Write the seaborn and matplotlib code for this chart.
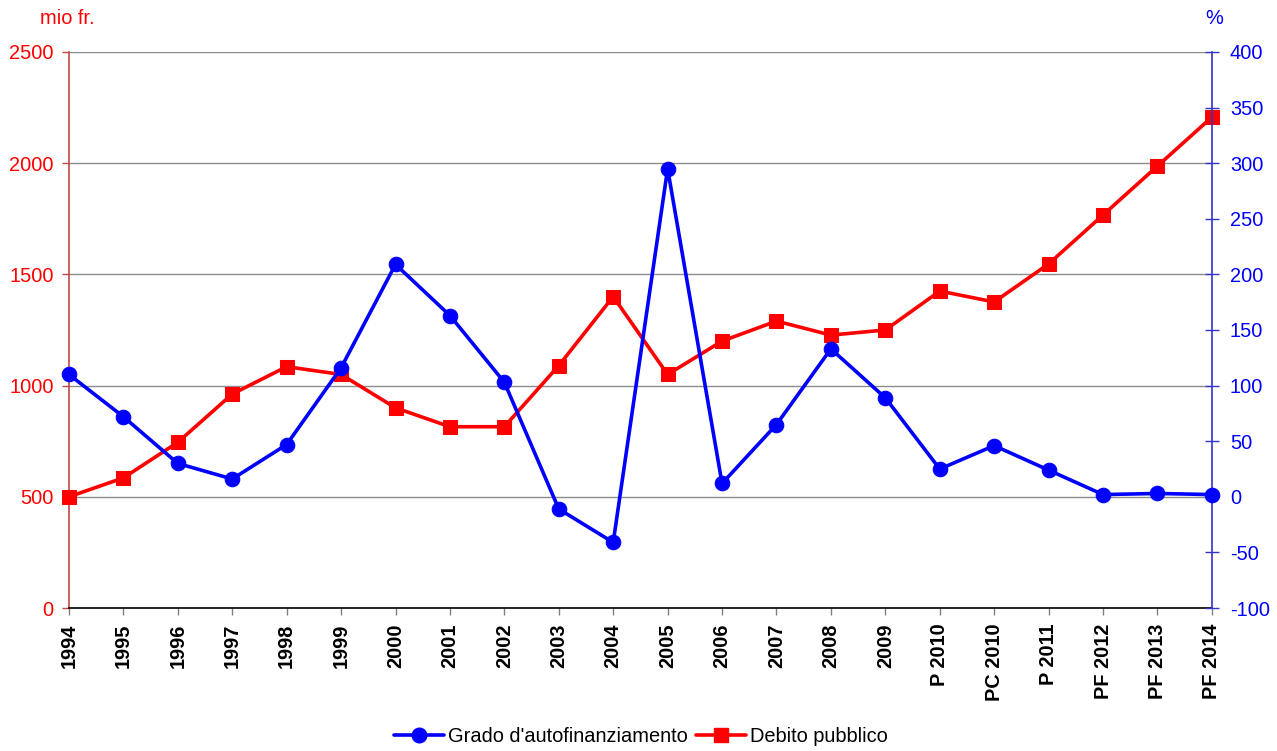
import matplotlib
matplotlib.use("Agg")
import matplotlib.pyplot as plt
import seaborn as sns
import pandas as pd
from matplotlib.lines import Line2D

# Data
periods = ["1994", "1995", "1996", "1997", "1998", "1999", "2000", "2001", "2002",
           "2003", "2004", "2005", "2006", "2007", "2008", "2009", "P 2010",
           "PC 2010", "P 2011", "PF 2012", "PF 2013", "PF 2014"]
debito_pubblico = [500, 585, 745, 962, 1085, 1050, 900, 815, 815, 1090, 1400,
                   1050, 1200, 1290, 1227, 1250, 1425, 1376, 1547, 1767, 1987, 2207]
grado_autofin = [110, 72, 30, 16, 47, 116, 209, 163, 103, -11, -41,
                 295, 12, 65, 133, 89, 25, 46, 24, 2, 3, 2]

left_ticks = [0, 500, 1000, 1500, 2000, 2500]
right_ticks = [-100, -50, 0, 50, 100, 150, 200, 250, 300, 350, 400]

RED = "#FF0000"
BLUE = "#0000FF"
FS = 14.4

sns.set_theme(style="white")
plt.rcParams["font.family"] = ["Liberation Sans", "DejaVu Sans"]
plt.rcParams["axes.unicode_minus"] = False
plt.rcParams["text.color"] = "black"

df = pd.DataFrame({"periodo": periods, "debito": debito_pubblico, "grado": grado_autofin})

fig = plt.figure(figsize=(12.77, 7.51), dpi=100)
ax = fig.add_axes([0.054, 0.1904, 0.895, 0.7404])
ax2 = ax.twinx()

# Public debt (left axis)
sns.lineplot(data=df, x="periodo", y="debito", ax=ax, color=RED, lw=2.6,
             marker="s", markersize=10.5, markeredgecolor=RED, sort=False,
             zorder=3, clip_on=False)
# Self-financing ratio (right axis)
sns.lineplot(data=df, x="periodo", y="grado", ax=ax2, color=BLUE, lw=2.6,
             marker="o", markersize=10.5, markeredgecolor=BLUE, sort=False,
             zorder=3, clip_on=False)

ax.set_xlim(0, len(periods) - 1)
ax.set_ylim(0, 2500)
ax2.set_ylim(-100, 400)
ax.set_yticks(left_ticks)
ax2.set_yticks(right_ticks)
ax.set_xticks(range(len(periods)))
ax.set_xticklabels(periods, rotation=90, fontweight="bold", fontsize=FS, color="black")

ax.set_xlabel("")
ax.set_ylabel("")
ax2.set_ylabel("")

# Grid from the left axis only
ax.yaxis.grid(True, color="#8c8c8c", lw=1.0)
ax.xaxis.grid(False)
ax2.grid(False)
ax.set_axisbelow(True)

for a in (ax, ax2):
    a.spines["top"].set_visible(False)
ax.spines["left"].set_color("#c04848")
ax.spines["left"].set_linewidth(1.2)
ax.spines["bottom"].set_color("black")
ax.spines["bottom"].set_linewidth(1.2)
ax.spines["right"].set_visible(False)
ax2.spines["left"].set_visible(False)
ax2.spines["bottom"].set_visible(False)
ax2.spines["right"].set_color("#3434c8")
ax2.spines["right"].set_linewidth(1.2)

ax.tick_params(axis="y", labelcolor=RED, color="#c04848", labelsize=FS, length=5,
               width=1, direction="out", left=True, pad=6)
ax.tick_params(axis="x", length=5, width=1, color="#808080", direction="out",
               bottom=True, pad=6)
ax2.tick_params(axis="y", labelcolor=BLUE, color="#3434c8", labelsize=FS,
                length=10, width=1, direction="inout", right=True, pad=8)

fig.text(0.031, 0.976, "mio fr.", color=RED, fontsize=FS, ha="left", va="center")
fig.text(0.944, 0.976, "%", color=BLUE, fontsize=FS, ha="left", va="center")

handles = [
    Line2D([0], [0], color=BLUE, lw=2.6, marker="o", markersize=10.5),
    Line2D([0], [0], color=RED, lw=2.6, marker="s", markersize=10.5),
]
labels = ["Grado d'autofinanziamento", "Debito pubblico"]
fig.legend(handles, labels, loc="center", bbox_to_anchor=(0.502, 0.019), ncol=2,
           frameon=False, fontsize=FS, handlelength=2.5, handletextpad=0.2,
           columnspacing=0.4, borderpad=0, labelcolor="black")

fig.savefig("out.png", dpi=100)
